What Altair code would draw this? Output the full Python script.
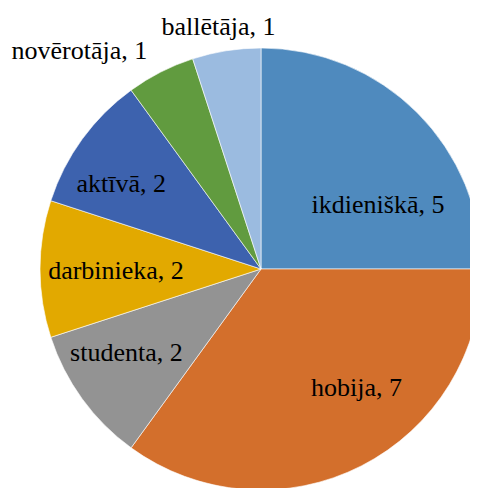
import altair as alt
import pandas as pd
import math

categories = ["ikdieniškā", "hobija", "studenta", "darbinieka", "aktīvā", "novērotāja", "ballētāja"]
values = [5, 7, 2, 2, 2, 1, 1]
colors = ["#4F8ABE", "#D36F2C", "#939393", "#E2A900", "#3D62AE", "#619B3F", "#9BBBE0"]

df = pd.DataFrame({
    "category": categories,
    "value": values,
    "idx": list(range(len(categories))),
})
df["label"] = [f"{c}, {v}" for c, v in zip(categories, values)]

total = sum(values)
CX, CY, R = 253, 261, 221

theta_scale = alt.Scale(domain=[0, total], range=[0, 2 * math.pi])

arc = alt.Chart(df).mark_arc(stroke="#ffffff", strokeWidth=0.6).encode(
    theta=alt.Theta("value:Q", stack=True, scale=theta_scale),
    color=alt.Color("category:N", scale=alt.Scale(domain=categories, range=colors), legend=None),
    order=alt.Order("idx:Q"),
    x=alt.value(CX),
    y=alt.value(CY),
    radius=alt.value(R),
)

# label placement: (radius, dx, dy) per category
label_pos = {
    "ikdieniškā": (133, 23, 30),
    "hobija": (153, 26, -17),
    "studenta": (159, -6, -9),
    "darbinieka": (145, 0, 2),
    "aktīvā": (164, -7, 11),
    "novērotāja": (246, -70, 1),
    "ballētāja": (246, -4, 1),
}

base = alt.Chart(df).transform_window(
    cum="sum(value)", sort=[alt.SortField("idx")]
).transform_calculate(mid="datum.cum - datum.value / 2")

texts = []
for c in categories:
    r, dx, dy = label_pos[c]
    t = base.transform_filter(alt.datum.category == c).mark_text(
        radius=r, dx=dx, dy=dy, font="Liberation Serif", fontSize=26,
        color="#000000", align="center", baseline="middle",
    ).encode(
        theta=alt.Theta("mid:Q", stack=None, scale=theta_scale),
        text="label:N",
        x=alt.value(CX),
        y=alt.value(CY),
    )
    texts.append(t)

chart = alt.layer(arc, *texts).properties(
    width=462, height=480, autosize="none", padding=0
).configure_view(stroke=None)

chart.save("out.html", embed_options={"renderer": "svg", "actions": False})
